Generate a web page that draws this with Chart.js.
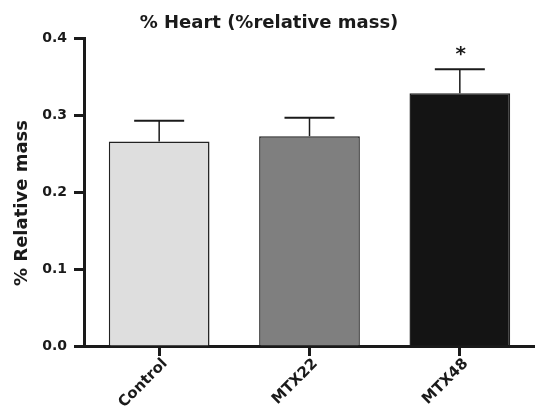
<!DOCTYPE html>
<html>
<head>
<meta charset="utf-8">
<script src="https://cdn.jsdelivr.net/npm/chart.js@4.4.1/dist/chart.umd.min.js"></script>
<style>
  body { margin: 0; background: #ffffff; }
  #chart { display: block; }
</style>
</head>
<body>
<canvas id="chart" width="535" height="408"></canvas>
<script>
// Data
const groups = ['Control', 'MTX22', 'MTX48'];
const means = [0.266, 0.273, 0.329];
const errors = [0.027, 0.024, 0.031];
const significance = ['', '', '*'];
const yTicks = [0.0, 0.1, 0.2, 0.3, 0.4];

const barColors = ['#dedede', '#7f7f7f', '#141414'];
const ink = '#1a1a1a';
const fontFamily = '"DejaVu Sans", sans-serif';

// Error bars, asterisk and the y axis title
const extrasPlugin = {
    id: 'extras',
    afterDatasetsDraw(chart) {
        const ctx = chart.ctx;
        const x = chart.scales.x;
        const y = chart.scales.y;
        ctx.save();
        ctx.strokeStyle = ink;
        for (let i = 0; i < groups.length; i++) {
            const cx = x.getPixelForValue(i);
            const yBar = y.getPixelForValue(means[i]);
            const yTop = y.getPixelForValue(means[i] + errors[i]);
            ctx.lineWidth = 1.5;
            ctx.beginPath();
            ctx.moveTo(cx, yBar);
            ctx.lineTo(cx, yTop);
            ctx.stroke();
            ctx.lineWidth = 2;
            ctx.beginPath();
            ctx.moveTo(cx - 25, yTop);
            ctx.lineTo(cx + 25, yTop);
            ctx.stroke();
            if (significance[i]) {
                ctx.fillStyle = ink;
                ctx.font = 'bold 20px ' + fontFamily;
                ctx.textAlign = 'center';
                ctx.textBaseline = 'alphabetic';
                ctx.fillText(significance[i], cx + 1, yTop - 9);
            }
        }
        // y axis title
        ctx.translate(22, 203);
        ctx.rotate(-Math.PI / 2);
        ctx.fillStyle = ink;
        ctx.font = 'bold 18px ' + fontFamily;
        ctx.textAlign = 'center';
        ctx.textBaseline = 'middle';
        ctx.fillText('% Relative mass', 0, 0);
        ctx.restore();
    }
};

const ctx = document.getElementById('chart').getContext('2d');
const chart = new Chart(ctx, {
    type: 'bar',
    data: {
        labels: groups,
        datasets: [{
            data: means,
            backgroundColor: barColors,
            borderColor: '#222222',
            borderWidth: 1.5,
            categoryPercentage: 1.0,
            barPercentage: 0.67
        }]
    },
    options: {
        responsive: false,
        animation: false,
        layout: {
            padding: { left: 0, right: -3, top: 0, bottom: 0 }
        },
        plugins: {
            legend: { display: false },
            tooltip: { enabled: false },
            title: {
                display: true,
                text: '% Heart (%relative mass)',
                color: ink,
                font: { family: fontFamily, size: 18, weight: 'bold' },
                padding: { top: 13, bottom: 4 }
            }
        },
        scales: {
            x: {
                afterFit(scale) { scale.height = 62; },
                grid: {
                    offset: false,
                    drawOnChartArea: false,
                    drawTicks: true,
                    tickLength: 10,
                    tickWidth: 3,
                    tickColor: ink
                },
                border: { display: true, width: 3, color: ink },
                ticks: {
                    color: ink,
                    minRotation: 45,
                    maxRotation: 45,
                    padding: -1,
                    labelOffset: 6,
                    font: { family: fontFamily, size: 15, weight: 'bold' }
                }
            },
            y: {
                min: 0,
                max: 0.4,
                afterFit(scale) { scale.width = 84; },
                afterBuildTicks(scale) {
                    scale.ticks = yTicks.map(v => ({ value: v }));
                },
                grid: {
                    drawOnChartArea: false,
                    drawTicks: true,
                    tickLength: 10,
                    tickWidth: 3,
                    tickColor: ink
                },
                border: { display: true, width: 3, color: ink },
                ticks: {
                    color: ink,
                    padding: 7,
                    font: { family: fontFamily, size: 14, weight: 'bold' },
                    callback: v => Number(v).toFixed(1)
                }
            }
        }
    },
    plugins: [extrasPlugin]
});
</script>
</body>
</html>
